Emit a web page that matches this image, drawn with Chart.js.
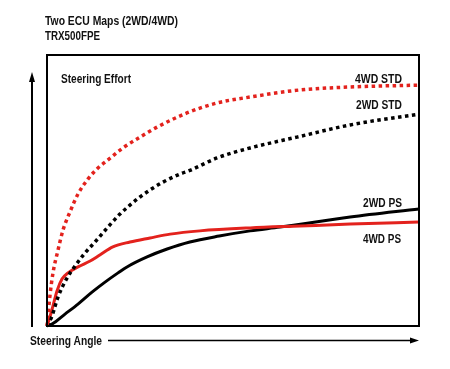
<!DOCTYPE html>
<html>
<head>
<meta charset="utf-8">
<script src="https://cdn.jsdelivr.net/npm/chart.js@4/dist/chart.umd.min.js"></script>
<style>
  body { margin: 0; background: #fff; }
  #wrap { position: relative; width: 450px; height: 369px; }
  .lbl {
    position: absolute;
    font-family: "Liberation Sans", Arial, sans-serif;
    font-weight: bold;
    font-size: 13px;
    color: #111;
    line-height: 13px;
    white-space: nowrap;
    transform-origin: left top;
  }
</style>
</head>
<body>
<div id="wrap">
  <canvas id="c" width="450" height="369"></canvas>
  <div class="lbl" data-w="133" style="left:45px;top:14px;">Two ECU Maps (2WD/4WD)</div>
  <div class="lbl" data-w="55" style="left:45px;top:28.5px;">TRX500FPE</div>
  <div class="lbl" data-w="70" style="left:61px;top:72px;">Steering Effort</div>
  <div class="lbl" data-w="47" style="left:355px;top:71.5px;">4WD STD</div>
  <div class="lbl" data-w="46" style="left:356px;top:97.5px;">2WD STD</div>
  <div class="lbl" data-w="39" style="left:363px;top:195.5px;">2WD PS</div>
  <div class="lbl" data-w="38" style="left:363px;top:231.5px;">4WD PS</div>
  <div class="lbl" data-w="72" style="left:30px;top:333.5px;">Steering Angle</div>
</div>
<script>
// steering angle (0-100) vs steering effort (0-100)
const std4wdX = [0, 0.81, 1.61, 2.96, 4.30, 6.18, 8.33, 11.0, 13.7, 16.4, 20.4, 25.0, 29.6, 37.6, 45.7, 54.6, 68.0, 81.5, 100];
const std4wdY = [0, 11.4, 19.6, 28.0, 35.4, 42.1, 48.7, 54.2, 58.3, 61.3, 65.7, 69.7, 73.4, 78.6, 82.3, 84.5, 87.1, 88.2, 88.9];

const std2wdX = [0, 1.34, 2.96, 5.38, 7.53, 10.2, 12.9, 16.9, 19.6, 22.3, 25.0, 27.7, 31.2, 35.8, 38.4, 45.7, 54.6, 67.2, 81.5, 100];
const std2wdY = [0, 3.7, 10.7, 17.7, 22.1, 26.9, 31.0, 37.3, 41.3, 44.6, 47.6, 50.2, 53.1, 56.1, 57.4, 62.0, 65.7, 69.7, 74.2, 78.2];

const ps4wdX = [0, 0.54, 1.61, 2.69, 4.03, 5.65, 8.33, 11.6, 14.2, 17.7, 22.3, 27.7, 33.1, 41.1, 54.6, 68.0, 81.5, 100];
const ps4wdY = [0, 2.2, 7.4, 12.9, 17.3, 19.6, 21.8, 24.0, 26.2, 29.2, 31.0, 32.5, 33.9, 35.1, 36.2, 36.9, 37.6, 38.4];

const ps2wdX = [0, 1.34, 4.84, 8.33, 12.1, 15.6, 19.1, 21.5, 26.9, 32.3, 38.4, 46.3, 54.6, 62.6, 81.5, 100];
const ps2wdY = [0, 0.7, 4.4, 8.1, 12.5, 16.2, 19.6, 21.8, 25.5, 28.4, 31.0, 33.2, 35.1, 36.5, 40.2, 43.2];

const RED = '#e3221d';
const BLACK = '#000000';

function pts(xs, ys) {
  return xs.map((x, i) => ({ x: x, y: ys[i] }));
}

// squeeze labels to the condensed widths of the original
document.querySelectorAll('.lbl').forEach(el => {
  const w = +el.dataset.w;
  el.style.transform = 'scaleX(' + (w / el.getBoundingClientRect().width) + ')';
});

const frame = {
  id: 'frame',
  afterDraw(chart) {
    const { ctx, chartArea: a } = chart;
    ctx.save();
    ctx.strokeStyle = '#000';
    ctx.fillStyle = '#000';
    ctx.lineWidth = 2;
    ctx.strokeRect(a.left, a.top, a.right - a.left, a.bottom - a.top);
    // y arrow
    ctx.beginPath();
    ctx.moveTo(32, a.bottom + 1);
    ctx.lineTo(32, 80);
    ctx.stroke();
    ctx.beginPath();
    ctx.moveTo(32, 72);
    ctx.lineTo(29, 82);
    ctx.lineTo(35, 82);
    ctx.closePath();
    ctx.fill();
    // x arrow
    ctx.lineWidth = 1.5;
    ctx.beginPath();
    ctx.moveTo(108, 340.5);
    ctx.lineTo(412, 340.5);
    ctx.stroke();
    ctx.beginPath();
    ctx.moveTo(419, 340.5);
    ctx.lineTo(410, 337.5);
    ctx.lineTo(410, 343.5);
    ctx.closePath();
    ctx.fill();
    ctx.restore();
  }
};

const line = (data, color, dash, width) => ({
  data: data,
  borderColor: color,
  borderWidth: width,
  borderDash: dash,
  pointRadius: 0,
  fill: false,
  cubicInterpolationMode: 'monotone',
  clip: false,
});

new Chart(document.getElementById('c'), {
  type: 'line',
  data: {
    datasets: [
      line(pts(std4wdX, std4wdY), RED, [3.5, 3.5], 3.5),
      line(pts(std2wdX, std2wdY), BLACK, [3.5, 3.5], 3.5),
      line(pts(ps4wdX, ps4wdY), RED, [], 3),
      line(pts(ps2wdX, ps2wdY), BLACK, [], 3),
    ],
  },
  options: {
    responsive: false,
    animation: false,
    layout: { padding: { left: 47, right: 31, top: 55, bottom: 43 } },
    plugins: { legend: { display: false }, tooltip: { enabled: false } },
    scales: {
      x: { type: 'linear', min: 0, max: 100, display: false },
      y: { min: 0, max: 100, display: false },
    },
  },
  plugins: [frame],
});
</script>
</body>
</html>
